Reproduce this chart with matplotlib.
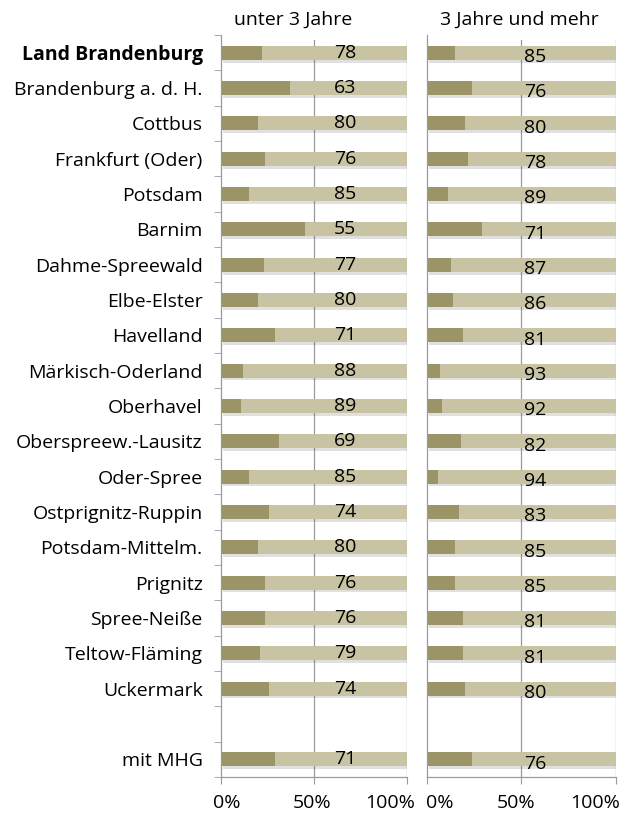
import matplotlib
matplotlib.use("Agg")
import matplotlib.pyplot as plt
import matplotlib.patheffects as pe
from matplotlib.transforms import offset_copy
import numpy as np

plt.rcParams['font.family'] = ['Open Sans', 'DejaVu Sans']

categories = ["Land Brandenburg", "Brandenburg a. d. H.", "Cottbus", "Frankfurt (Oder)",
              "Potsdam", "Barnim", "Dahme-Spreewald", "Elbe-Elster", "Havelland",
              "Märkisch-Oderland", "Oberhavel", "Oberspreew.-Lausitz", "Oder-Spree",
              "Ostprignitz-Ruppin", "Potsdam-Mittelm.", "Prignitz", "Spree-Neiße",
              "Teltow-Fläming", "Uckermark", "", "mit MHG"]
under3 = [78, 63, 80, 76, 85, 55, 77, 80, 71, 88, 89, 69, 85, 74, 80, 76, 76, 79, 74, None, 71]
over3 = [85, 76, 80, 78, 89, 71, 87, 86, 81, 93, 92, 82, 94, 83, 85, 85, 81, 81, 80, None, 76]
panel_titles = ["unter 3 Jahre", "3 Jahre und mehr"]
xticks = [0, 50, 100]
xtick_labels = ["0%", "50%", "100%"]

dark = "#9b9466"
light = "#c8c3a2"
grid_col = "#9a9a9a"
fs = 14

fig = plt.figure(figsize=(6.29, 8.14), dpi=100)
ax1 = fig.add_axes([0.3509, 0.0455, 0.2966, 0.9115])
ax2 = fig.add_axes([0.6784, 0.0455, 0.3010, 0.9115])

n = len(categories)
y = np.arange(n)
shadow = [pe.SimplePatchShadow(offset=(1.5, -2), alpha=0.18, shadow_rgbFace="#555555"), pe.Normal()]

# per panel: value-label x position, value-label vertical shift, tick-label pixel shifts
panels = [(ax1, under3, panel_titles[0], 66.6, 0.0, (6, -1.5, -17)),
          (ax2, over3, panel_titles[1], 57.2, 0.12, (13, -5.5, -21))]

for ax, vals, title, lab_x, lab_dy, tick_shift in panels:
    for i, v in enumerate(vals):
        if v is None:
            continue
        b1 = ax.barh(i, 100 - v, height=0.4, color=dark, zorder=2)
        b2 = ax.barh(i, v, left=100 - v, height=0.4, color=light, zorder=2)
        for p in list(b1) + list(b2):
            p.set_path_effects(shadow)
        ax.text(lab_x, i + lab_dy, f"{v}", ha="center", va="center",
                fontsize=fs, color="black", zorder=3)
    ax.set_xlim(0, 100)
    ax.set_ylim(n - 0.5, -0.5)
    ax.set_xticks(xticks)
    ax.set_xticklabels([])
    base = ax.get_xaxis_transform()
    for xv, lab, dx in zip(xticks, xtick_labels, tick_shift):
        tr = offset_copy(base, fig=fig, x=dx, y=-26, units="dots")
        ax.text(xv, 0, lab, transform=tr, ha="center", va="center", fontsize=fs)
    for gx in (50, 100):
        ax.axvline(gx, color=grid_col, lw=0.9, zorder=1, ymax=0.993)
    for s in ("top", "right"):
        ax.spines[s].set_visible(False)
    for s in ("left", "bottom"):
        ax.spines[s].set_color(grid_col)
        ax.spines[s].set_linewidth(0.9)
    ax.tick_params(axis="x", length=5, color=grid_col)
    ax.text(0.07, 1.008, title, transform=ax.transAxes, fontsize=fs,
            ha="left", va="bottom")

ax1.set_yticks(np.arange(n + 1) - 0.5, minor=True)
ax1.set_yticks(y)
ax1.set_yticklabels(categories, fontsize=fs)
ax1.tick_params(axis="y", which="major", length=0, pad=13)
ax1.tick_params(axis="y", which="minor", length=5, color=grid_col)
ax1.get_yticklabels()[0].set_fontweight("bold")

ax2.set_yticks([])

fig.savefig("out.png", dpi=100)
